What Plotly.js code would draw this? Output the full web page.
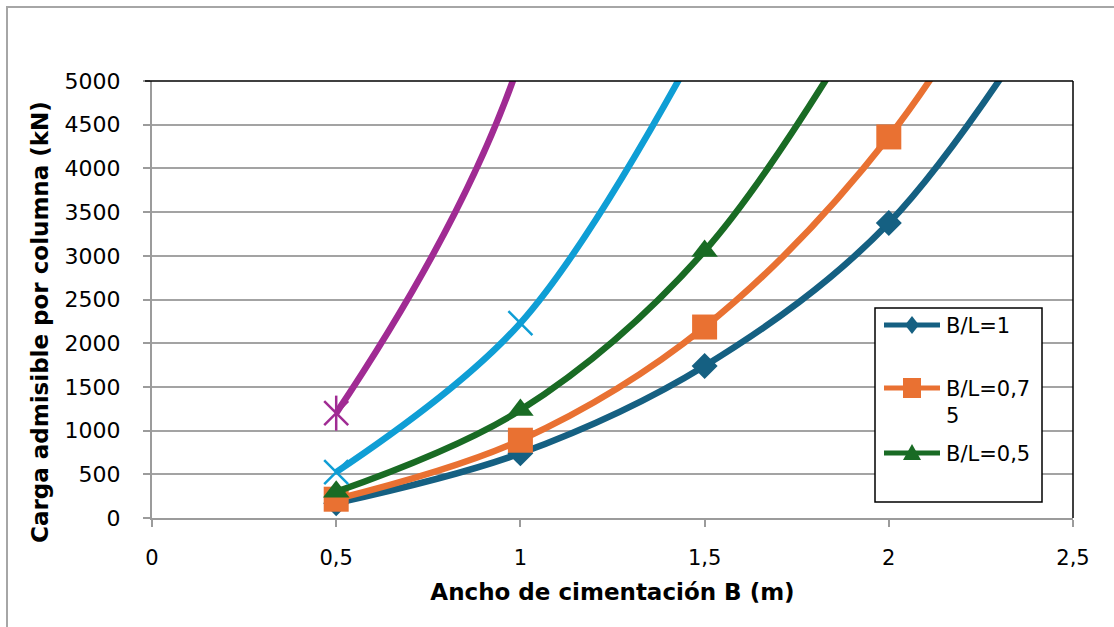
<!DOCTYPE html>
<html>
<head>
<meta charset="utf-8">
<script src="https://cdn.plot.ly/plotly-3.0.1.min.js"></script>
<style>
  html, body { margin: 0; padding: 0; background: #ffffff; }
  #chart { width: 1114px; height: 627px; }
</style>
</head>
<body>
<div id="chart"></div>
<script>
// ---- Data ----
const seriesNames = ['B/L=1', 'B/L=0,75', 'B/L=0,5', 'Serie4', 'Serie5'];
const legendLabels = ['B/L=1', 'B/L=0,7<br>5', 'B/L=0,5'];

const anchoBL1 = [0.5, 1, 1.5, 2, 2.5];
const cargaBL1 = [170, 740, 1740, 3375, 6300];

const anchoBL075 = [0.5, 1, 1.5, 2, 2.5];
const cargaBL075 = [215, 890, 2185, 4360, 7700];

const anchoBL05 = [0.5, 1, 1.5, 2];
const cargaBL05 = [300, 1235, 3055, 6200];

const anchoS4 = [0.5, 1, 1.5];
const cargaS4 = [525, 2230, 5550];

const anchoS5 = [0.5, 1, 1.5];
const cargaS5 = [1200, 5250, 18000];

const xTickVals = [0, 0.5, 1, 1.5, 2, 2.5];
const yTickVals = [0, 500, 1000, 1500, 2000, 2500, 3000, 3500, 4000, 4500, 5000];

// ---- Styles ----
const colors = ['#156082', '#E97132', '#196B24', '#0F9ED5', '#A02B93'];
const LW = 6.5;

const traces = [
  {
    x: anchoBL1, y: cargaBL1, name: seriesNames[0], type: 'scatter', mode: 'lines+markers',
    line: { color: colors[0], width: LW, shape: 'spline', smoothing: 1 },
    marker: { symbol: 'diamond', size: 20, color: colors[0] }
  },
  {
    x: anchoBL075, y: cargaBL075, name: seriesNames[1], type: 'scatter', mode: 'lines+markers',
    line: { color: colors[1], width: LW, shape: 'spline', smoothing: 1 },
    marker: { symbol: 'square', size: 25, color: colors[1] }
  },
  {
    x: anchoBL05, y: cargaBL05, name: seriesNames[2], type: 'scatter', mode: 'lines+markers',
    line: { color: colors[2], width: LW, shape: 'spline', smoothing: 1 },
    marker: { symbol: 'triangle-up', size: 23, color: colors[2] }
  },
  {
    x: anchoS4, y: cargaS4, name: seriesNames[3], type: 'scatter', mode: 'lines+markers',
    line: { color: colors[3], width: LW, shape: 'spline', smoothing: 1 },
    marker: { symbol: 'x-thin-open', size: 24, color: colors[3], line: { width: 2.5, color: colors[3] } }
  },
  {
    x: anchoS5, y: cargaS5, name: seriesNames[4], type: 'scatter', mode: 'lines+markers',
    line: { color: colors[4], width: LW, shape: 'spline', smoothing: 1 },
    marker: { symbol: 'x-thin-open', size: 24, color: colors[4], line: { width: 2.5, color: colors[4] } }
  },
  {
    x: anchoS5, y: cargaS5, name: seriesNames[4], type: 'scatter', mode: 'markers', showlegend: false,
    marker: { symbol: 'line-ns-open', size: 25, color: colors[4], line: { width: 2.5, color: colors[4] } },
    hoverinfo: 'skip'
  }
];

// ---- Layout geometry (pixels -> paper) ----
const L = 152, R = 1073, T = 81, Bm = 518;
const W = R - L, H = Bm - T;
const px = v => (v - L) / W;
const py = v => (Bm - v) / H;

const gray = '#9b9b9b';

// custom legend (as drawn in the reference, only 3 entries visible)
const legX0 = 875, legX1 = 1042, legY0 = 308, legY1 = 502;
const legRows = [325, 388, 453];
const lineX0 = 884, lineX1 = 940, symX = 912, textX = 944;

const shapes = [
  // outer chart border
  { type: 'rect', xref: 'paper', yref: 'paper', x0: px(7), x1: px(1125), y0: py(640), y1: py(7),
    line: { color: '#a6a6a6', width: 2 }, fillcolor: 'rgba(0,0,0,0)', layer: 'below' },
  // plot area frame: top & right in black
  { type: 'line', xref: 'paper', yref: 'paper', x0: px(145), x1: 1, y0: 1, y1: 1, line: { color: '#000', width: 1.5 } },
  { type: 'line', xref: 'paper', yref: 'paper', x0: 1, x1: 1, y0: 0, y1: 1, line: { color: '#000', width: 1.5 } },
  // legend box
  { type: 'rect', xref: 'paper', yref: 'paper', x0: px(legX0), x1: px(legX1), y0: py(legY1), y1: py(legY0),
    line: { color: '#000', width: 1.5 }, fillcolor: '#ffffff', layer: 'above' }
];
legRows.forEach((ry, i) => {
  shapes.push({ type: 'line', xref: 'paper', yref: 'paper', x0: px(lineX0), x1: px(lineX1), y0: py(ry), y1: py(ry),
    line: { color: colors[i], width: 5 }, layer: 'above' });
});
// legend symbols (pixel-sized paths anchored at row positions)
const legPaths = [
  'M0,9 L7,0 L0,-9 L-7,0 Z',          // diamond
  'M-9,10 L9,10 L9,-10 L-9,-10 Z',     // square
  'M-9,-7 L9,-7 L0,9 Z'                // triangle up
];
legPaths.forEach((p, i) => {
  shapes.push({ type: 'path', xref: 'paper', yref: 'paper', xsizemode: 'pixel', ysizemode: 'pixel',
    xanchor: px(symX), yanchor: py(legRows[i]), path: p,
    fillcolor: colors[i], line: { color: colors[i], width: 0 }, layer: 'above' });
});

const annotations = [
  { text: 'Carga admisible por columna (kN)', xref: 'paper', yref: 'paper', x: px(40), y: py(322),
    xanchor: 'center', yanchor: 'middle', textangle: -90, showarrow: false,
    font: { family: 'DejaVu Sans', size: 23, color: '#000', weight: 'bold' } }
];
legendLabels.forEach((t, i) => {
  annotations.push({ text: t, xref: 'paper', yref: 'paper', x: px(textX), y: py(legRows[i] - 13),
    xanchor: 'left', yanchor: 'top', align: 'left', showarrow: false,
    font: { family: 'DejaVu Sans', size: 21, color: '#000' } });
});

const layout = {
  width: 1114, height: 627,
  margin: { l: L, r: 1114 - R, t: T, b: 627 - Bm, pad: 0 },
  paper_bgcolor: '#ffffff', plot_bgcolor: '#ffffff',
  separators: ',.',
  showlegend: false,
  font: { family: 'DejaVu Sans', color: '#000' },
  xaxis: {
    range: [0, 2.5], tickmode: 'array', tickvals: xTickVals,
    showgrid: false, zeroline: false,
    showline: true, linecolor: gray, linewidth: 2,
    ticks: 'outside', ticklen: 7, tickcolor: gray, tickwidth: 2,
    tickfont: { size: 21, color: '#000' }, ticklabelstandoff: 13,
    title: { text: 'Ancho de cimentación B (m)', font: { size: 23, weight: 'bold', color: '#000' }, standoff: 15 },
    automargin: false, fixedrange: true
  },
  yaxis: {
    range: [0, 5000], tickmode: 'array', tickvals: yTickVals,
    showgrid: true, gridcolor: '#a3a3a3', gridwidth: 2, zeroline: false,
    showline: true, linecolor: gray, linewidth: 2,
    ticks: 'outside', ticklen: 7, tickcolor: gray, tickwidth: 2,
    tickfont: { size: 22, color: '#000' }, ticklabelstandoff: 18,
    automargin: false, fixedrange: true
  },
  shapes: shapes,
  annotations: annotations
};

Plotly.newPlot('chart', traces, layout, { displayModeBar: false, staticPlot: true });
</script>
</body>
</html>
